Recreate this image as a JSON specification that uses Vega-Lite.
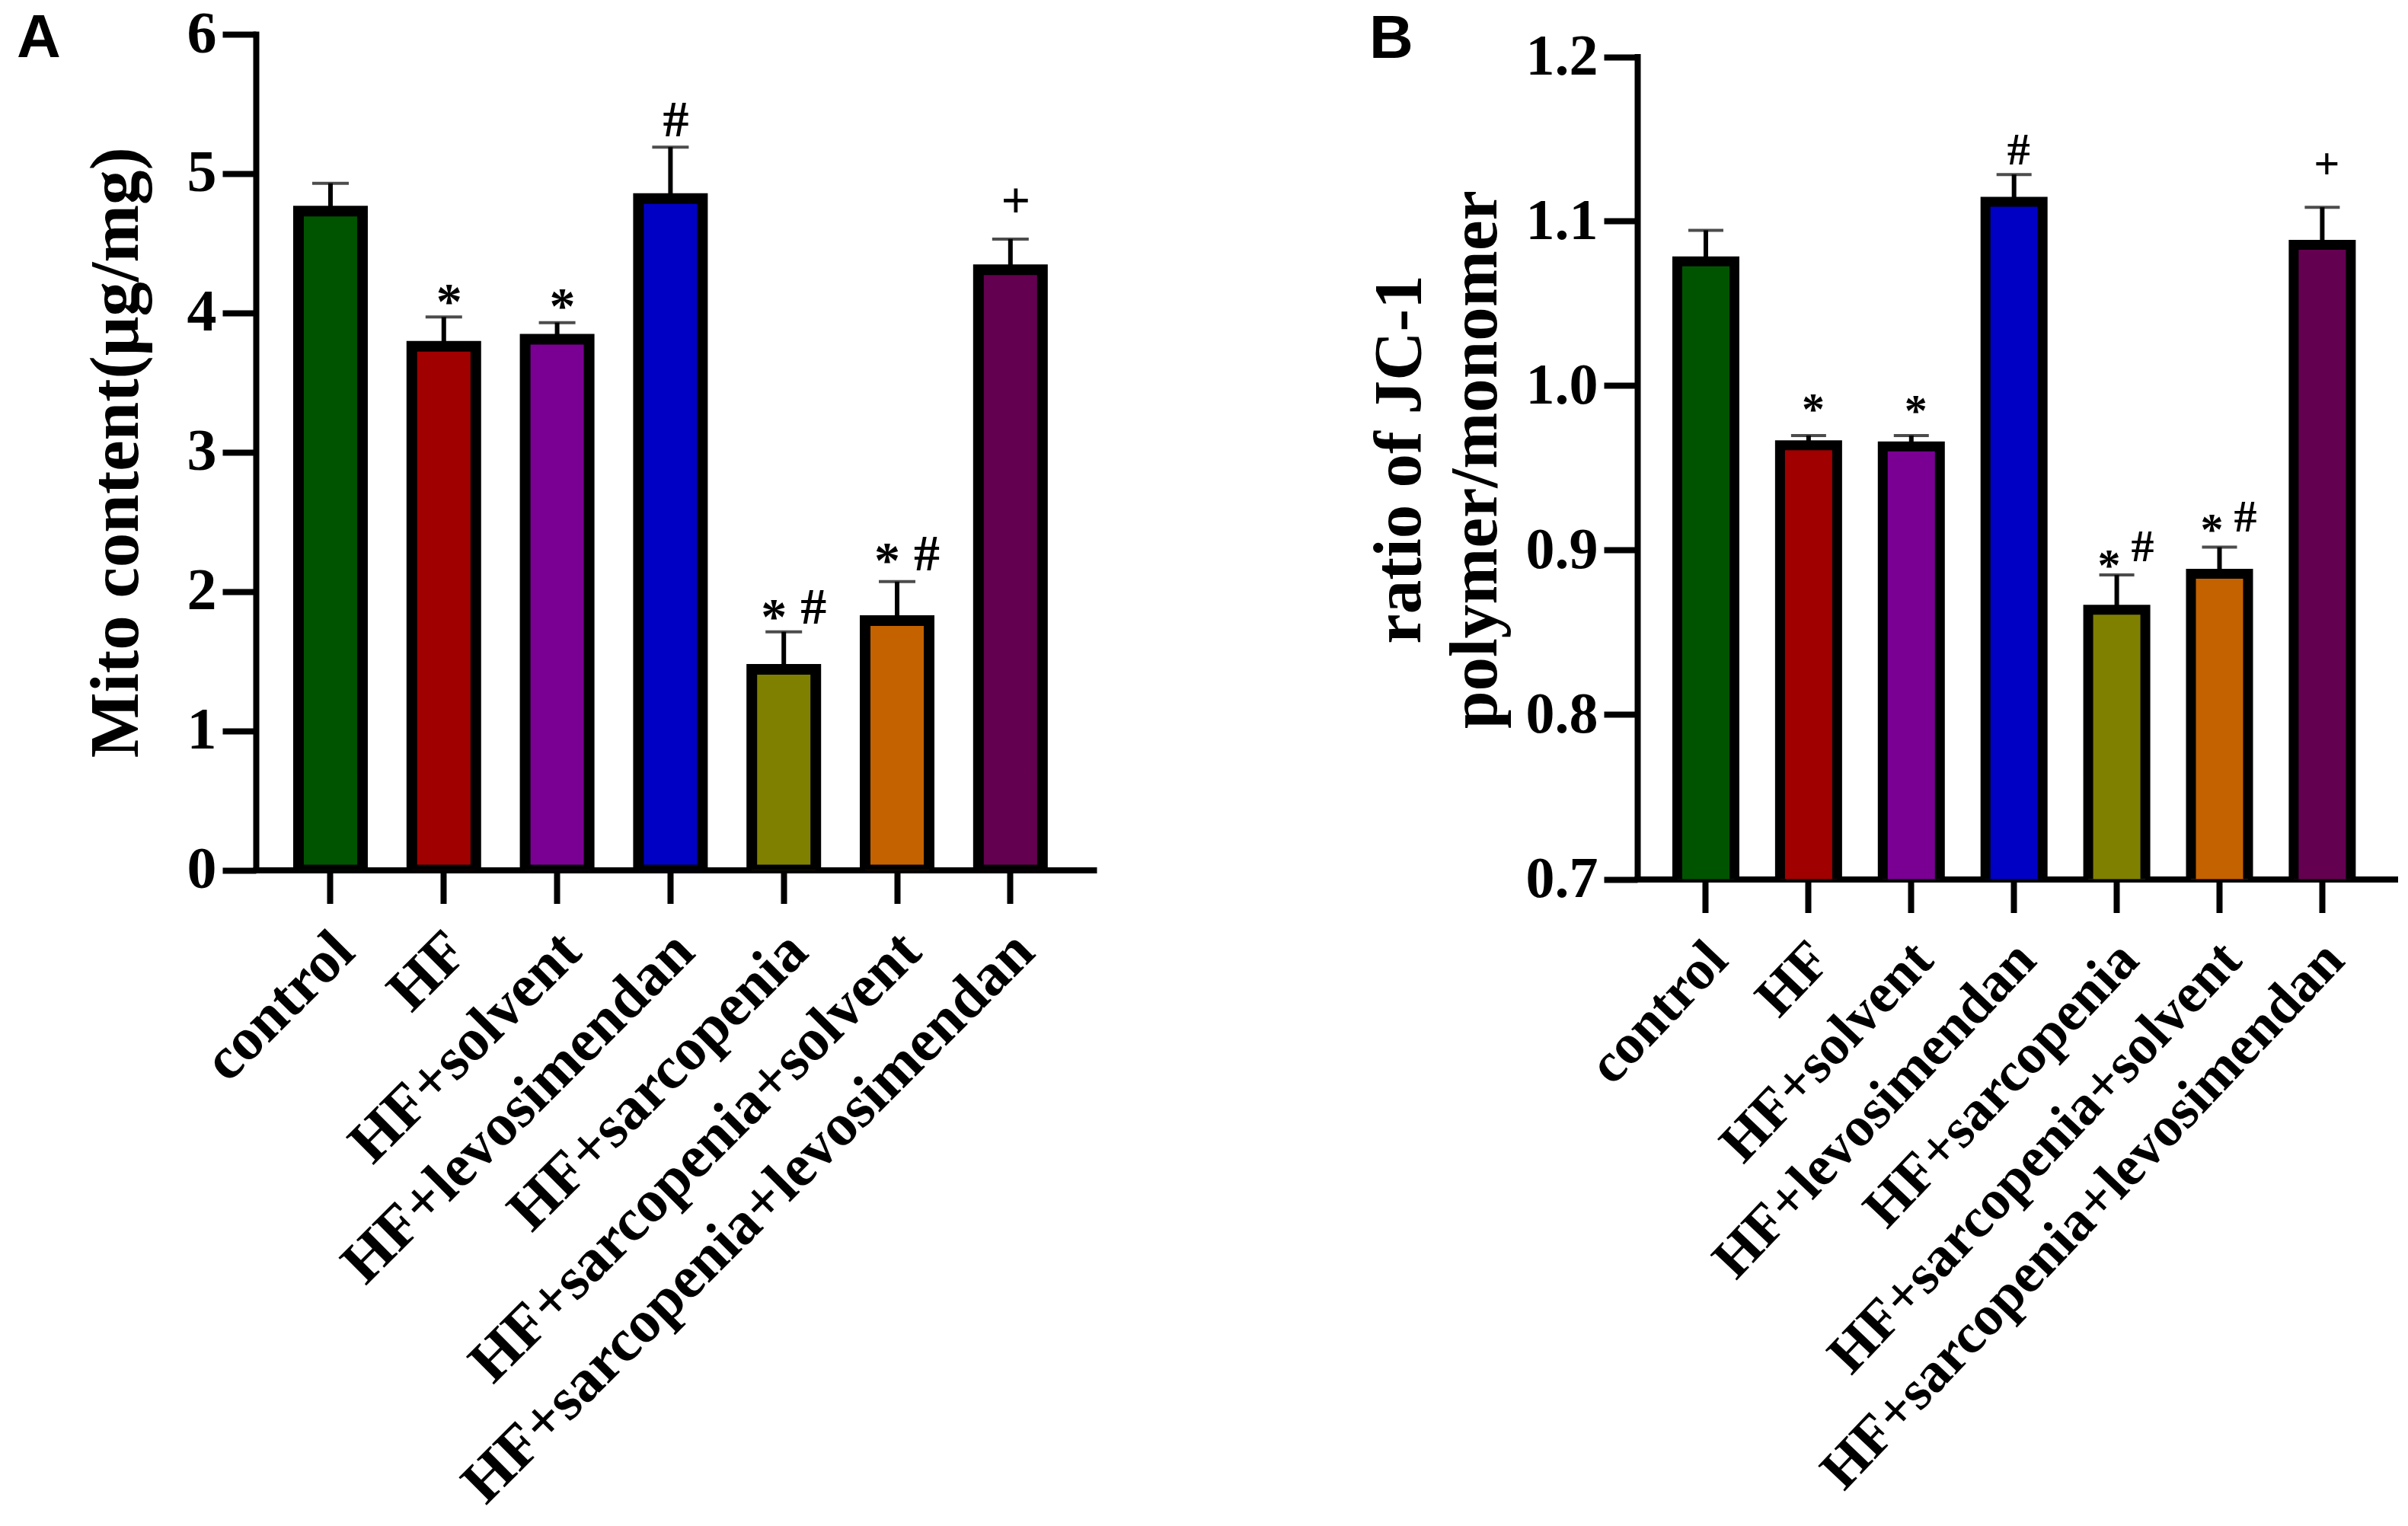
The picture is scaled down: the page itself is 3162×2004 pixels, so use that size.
{
  "$schema": "https://vega.github.io/schema/vega-lite/v6.json",
  "background": "white",
  "padding": {"left": 22, "top": 6, "right": 0, "bottom": 0},
  "bounds": "flush",
  "spacing": 714,
  "datasets": {
    "mito": [
      {"group": "control", "value": 4.73, "upper": 4.93},
      {"group": "HF", "value": 3.76, "upper": 3.97},
      {"group": "HF+solvent", "value": 3.81, "upper": 3.93},
      {"group": "HF+levosimendan", "value": 4.82, "upper": 5.19},
      {"group": "HF+sarcopenia", "value": 1.44, "upper": 1.71},
      {"group": "HF+sarcopenia+solvent", "value": 1.79, "upper": 2.07},
      {"group": "HF+sarcopenia+levosimendan", "value": 4.31, "upper": 4.53}
    ],
    "mitoNotes": [
      {"group": "HF", "note": "*", "at": 3.96, "slot": "solo"},
      {"group": "HF+solvent", "note": "*", "at": 3.93, "slot": "solo"},
      {"group": "HF+levosimendan", "note": "#", "at": 5.27, "slot": "solo"},
      {"group": "HF+sarcopenia", "note": "*", "at": 1.7, "slot": "pair"},
      {"group": "HF+sarcopenia", "note": "#", "at": 1.77, "slot": "pair"},
      {"group": "HF+sarcopenia+solvent", "note": "*", "at": 2.1, "slot": "pair"},
      {"group": "HF+sarcopenia+solvent", "note": "#", "at": 2.15, "slot": "pair"},
      {"group": "HF+sarcopenia+levosimendan", "note": "+", "at": 4.68, "slot": "solo"}
    ],
    "jc1": [
      {"group": "control", "value": 1.0756, "upper": 1.0945},
      {"group": "HF", "value": 0.9638, "upper": 0.9697},
      {"group": "HF+solvent", "value": 0.9631, "upper": 0.9697},
      {"group": "HF+levosimendan", "value": 1.1118, "upper": 1.1284},
      {"group": "HF+sarcopenia", "value": 0.8638, "upper": 0.8849},
      {"group": "HF+sarcopenia+solvent", "value": 0.8856, "upper": 0.9018},
      {"group": "HF+sarcopenia+levosimendan", "value": 1.0856, "upper": 1.1085}
    ],
    "jc1Notes": [
      {"group": "HF", "note": "*", "at": 0.9764, "slot": "solo"},
      {"group": "HF+solvent", "note": "*", "at": 0.9756, "slot": "solo"},
      {"group": "HF+levosimendan", "note": "#", "at": 1.1343, "slot": "solo"},
      {"group": "HF+sarcopenia", "note": "*", "at": 0.8815, "slot": "pair"},
      {"group": "HF+sarcopenia", "note": "#", "at": 0.8935, "slot": "pair"},
      {"group": "HF+sarcopenia+solvent", "note": "*", "at": 0.9035, "slot": "pair"},
      {"group": "HF+sarcopenia+solvent", "note": "#", "at": 0.9115, "slot": "pair"},
      {"group": "HF+sarcopenia+levosimendan", "note": "+", "at": 1.1258, "slot": "solo"}
    ]
  },
  "hconcat": [
    {
      "width": 1100,
      "height": 1097.5,
      "title": {"text": "A", "dx": -314, "offset": -86},
      "data": {"name": "mito"},
      "encoding": {
        "x": {
          "field": "group",
          "type": "nominal",
          "sort": null,
          "title": null,
          "scale": {"paddingInner": 0, "paddingOuter": 0.196, "align": 0.404},
          "axis": {"labelAngle": -45, "labelAlign": "right", "labelBaseline": "middle", "labelPadding": 50, "labelOffset": 18, "labelFontSize": 79, "labelLimit": 0}
        }
      },
      "layer": [
        {
          "mark": {"type": "rule", "color": "black", "strokeWidth": 6},
          "encoding": {
            "y": {"field": "value", "type": "quantitative", "title": "Mito content(μg/mg)", "scale": {"domain": [0, 6]}, "axis": {"values": [0, 1, 2, 3, 4, 5, 6], "format": "d", "labelFontSize": 78, "titlePadding": 46}},
            "y2": {"field": "upper"}
          }
        },
        {
          "mark": {"type": "tick", "color": "black", "size": 48, "thickness": 4},
          "encoding": {"y": {"field": "upper", "type": "quantitative"}}
        },
        {
          "mark": {"type": "bar", "width": 84, "stroke": "black", "strokeWidth": 14, "clip": true},
          "encoding": {
            "y": {"field": "value", "type": "quantitative"},
            "color": {"field": "group", "type": "nominal", "sort": null, "legend": null, "scale": {"range": ["#005400", "#a00000", "#7a0094", "#0000c4", "#808000", "#c46200", "#640050"]}}
          }
        },
        {
          "data": {"name": "mitoNotes"},
          "transform": [{"filter": "datum.slot === 'solo'"}],
          "mark": {"type": "text", "font": "Liberation Serif", "fontWeight": "bold", "fontSize": 68, "baseline": "alphabetic", "dx": 7},
          "encoding": {"y": {"field": "at", "type": "quantitative"}, "text": {"field": "note"}}
        },
        {
          "data": {"name": "mitoNotes"},
          "transform": [{"filter": "datum.slot === 'pair' && datum.note === '*'"}],
          "mark": {"type": "text", "font": "Liberation Serif", "fontWeight": "bold", "fontSize": 68, "baseline": "alphabetic", "dx": -13},
          "encoding": {"y": {"field": "at", "type": "quantitative"}, "text": {"field": "note"}}
        },
        {
          "data": {"name": "mitoNotes"},
          "transform": [{"filter": "datum.slot === 'pair' && datum.note === '#'"}],
          "mark": {"type": "text", "font": "Liberation Serif", "fontWeight": "bold", "fontSize": 68, "baseline": "alphabetic", "dx": 39},
          "encoding": {"y": {"field": "at", "type": "quantitative"}, "text": {"field": "note"}}
        }
      ]
    },
    {
      "width": 999,
      "height": 1109.5,
      "title": {"text": "B", "dx": -352, "offset": -56.5},
      "data": {"name": "jc1"},
      "encoding": {
        "x": {
          "field": "group",
          "type": "nominal",
          "sort": null,
          "title": null,
          "scale": {"paddingInner": 0, "paddingOuter": 0.2027, "align": 0.412},
          "axis": {"labelAngle": -46.5, "labelAlign": "right", "labelBaseline": "middle", "labelPadding": 50, "labelOffset": 16, "labelFontSize": 74, "labelLimit": 0}
        }
      },
      "layer": [
        {
          "mark": {"type": "rule", "color": "black", "strokeWidth": 6},
          "encoding": {
            "y": {"field": "value", "type": "quantitative", "title": ["ratio of JC-1", "polymer/monomer"], "scale": {"domain": [0.7, 1.2], "range": [1109.5, 29.5]}, "axis": {"values": [0.7, 0.8, 0.9, 1.0, 1.1, 1.2], "format": ".1f", "labelFontSize": 76, "titleFontSize": 89, "titlePadding": 20, "titleLineHeight": 100, "titleY": 558}},
            "y2": {"field": "upper"}
          }
        },
        {
          "mark": {"type": "tick", "color": "black", "size": 46, "thickness": 4},
          "encoding": {"y": {"field": "upper", "type": "quantitative"}}
        },
        {
          "mark": {"type": "bar", "width": 75, "stroke": "black", "strokeWidth": 13, "clip": true},
          "encoding": {
            "y": {"field": "value", "type": "quantitative"},
            "color": {"field": "group", "type": "nominal", "sort": null, "legend": null, "scale": {"range": ["#005400", "#a00000", "#7a0094", "#0000c4", "#808000", "#c46200", "#640050"]}}
          }
        },
        {
          "data": {"name": "jc1Notes"},
          "transform": [{"filter": "datum.slot === 'solo'"}],
          "mark": {"type": "text", "font": "Liberation Serif", "fontWeight": "bold", "fontSize": 60, "baseline": "alphabetic", "dx": 6},
          "encoding": {"y": {"field": "at", "type": "quantitative"}, "text": {"field": "note"}}
        },
        {
          "data": {"name": "jc1Notes"},
          "transform": [{"filter": "datum.slot === 'pair' && datum.note === '*'"}],
          "mark": {"type": "text", "font": "Liberation Serif", "fontWeight": "bold", "fontSize": 60, "baseline": "alphabetic", "dx": -10},
          "encoding": {"y": {"field": "at", "type": "quantitative"}, "text": {"field": "note"}}
        },
        {
          "data": {"name": "jc1Notes"},
          "transform": [{"filter": "datum.slot === 'pair' && datum.note === '#'"}],
          "mark": {"type": "text", "font": "Liberation Serif", "fontWeight": "bold", "fontSize": 60, "baseline": "alphabetic", "dx": 34},
          "encoding": {"y": {"field": "at", "type": "quantitative"}, "text": {"field": "note"}}
        }
      ]
    }
  ],
  "resolve": {"scale": {"color": "independent"}},
  "config": {
    "view": {"stroke": null},
    "title": {"font": "Liberation Sans", "fontWeight": "bold", "fontSize": 80, "color": "black", "anchor": "start", "frame": "group"},
    "axis": {
      "grid": false,
      "domainColor": "black",
      "domainWidth": 8,
      "domainCap": "square",
      "tickColor": "black",
      "tickWidth": 8,
      "tickSize": 44,
      "labelFont": "Liberation Serif",
      "labelFontWeight": "bold",
      "labelFontSize": 76,
      "labelColor": "black",
      "labelPadding": 8,
      "titleFont": "Liberation Serif",
      "titleFontWeight": "bold",
      "titleFontSize": 91,
      "titleColor": "black"
    }
  }
}
